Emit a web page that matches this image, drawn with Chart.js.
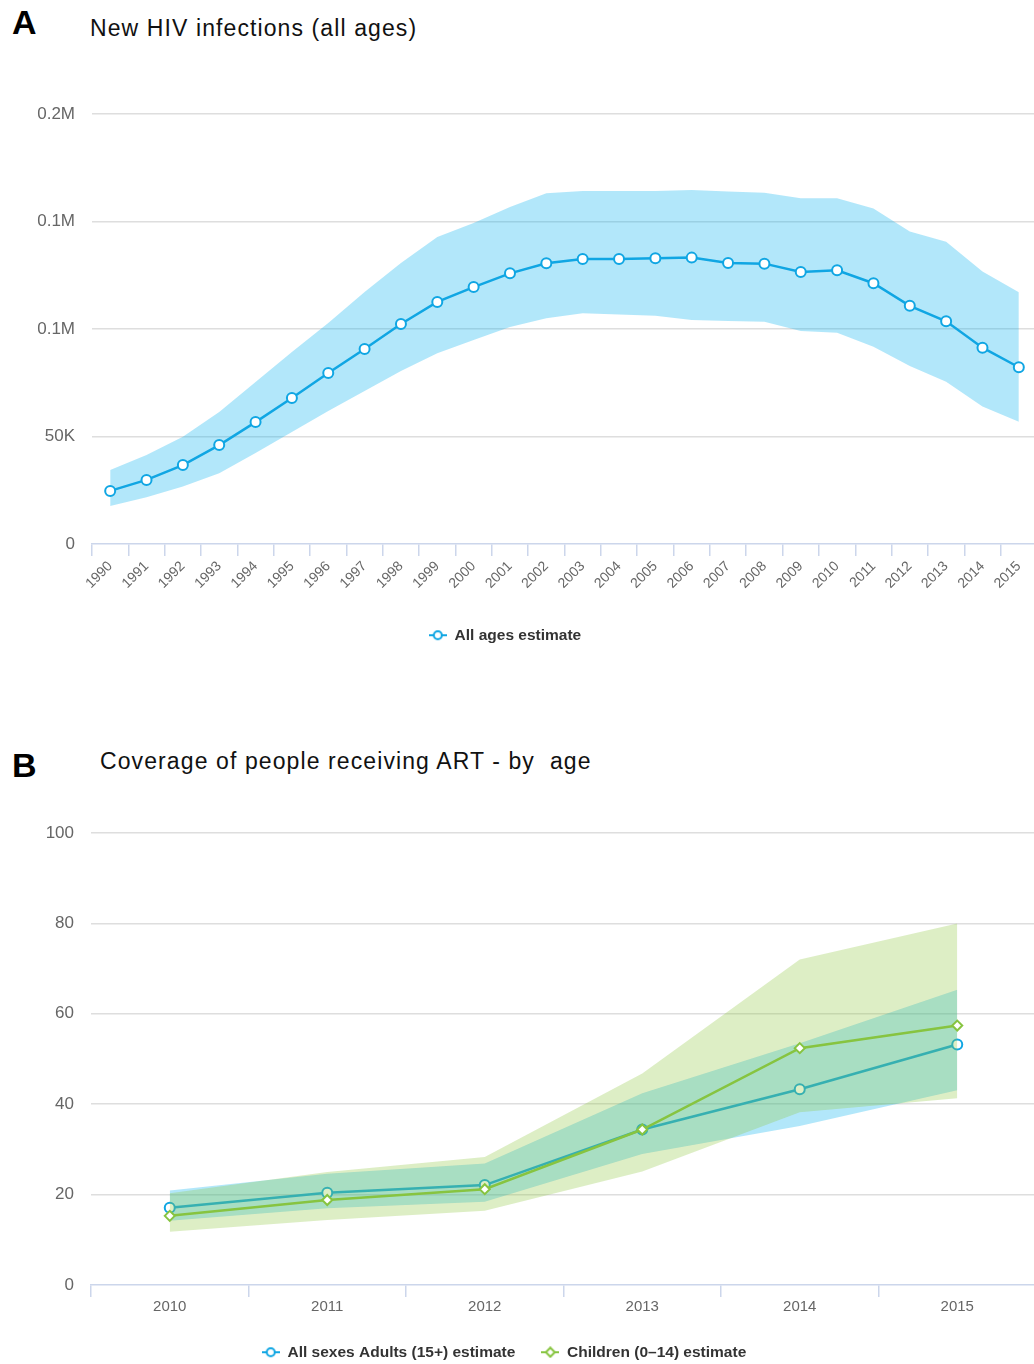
<!doctype html>
<html>
  <head>
    <meta charset="utf-8" />
    <script src="https://cdn.jsdelivr.net/npm/chart.js"></script>
    <style>
      html, body { margin: 0; padding: 0; background: #fff; overflow: hidden; }
      body { position: relative; width: 1034px; height: 1364px; font-family: "Liberation Sans", Arial, sans-serif; }
      .panel { position: absolute; left: 12px; font-size: 34px; line-height: 1; font-weight: bold; color: #000; }
      .title { position: absolute; font-size: 23px; line-height: 1; letter-spacing: 1.1px; color: #111; white-space: pre; }
      .box { position: absolute; width: 1064px; }
    </style>
  </head>
  <body>
    <div class="panel" style="top: 5px">A</div>
    <div class="title" style="left: 90px; top: 17px">New HIV infections (all ages)</div>
    <div class="box" style="left: -27px; top: 80px; height: 573px"><canvas id="chartA"></canvas></div>

    <div class="panel" style="top: 748px">B</div>
    <div class="title" style="left: 100px; top: 750px">Coverage of people receiving ART - by  age</div>
    <div class="box" style="left: -28px; top: 800px; height: 570px"><canvas id="chartB"></canvas></div>

    <script>
      // --- new infections, all ages ---
      const yearsA = ["1990", "1991", "1992", "1993", "1994", "1995", "1996", "1997", "1998",
        "1999", "2000", "2001", "2002", "2003", "2004", "2005", "2006", "2007", "2008",
        "2009", "2010", "2011", "2012", "2013", "2014", "2015"];
      const allAges = [24700, 29800, 36700, 46000, 56700, 67900, 79500, 90700, 102300,
        112600, 119500, 125900, 130600, 132600, 132600, 132900, 133200, 130700, 130400,
        126500, 127300, 121300, 110800, 103600, 91300, 82200];
      const allAgesHigh = [34400, 41400, 49900, 61400, 75300, 89300, 102800, 117200, 130700,
        142800, 149300, 156700, 163100, 164200, 164200, 164200, 164700, 163900, 163400,
        160800, 160800, 156100, 145300, 140600, 126700, 117100];
      const allAgesLow = [17700, 21700, 26700, 32900, 42300, 52100, 61900, 71200, 80500,
        88700, 94900, 100900, 105000, 107300, 106800, 106200, 104200, 103700, 103400,
        99100, 98300, 91800, 82800, 75500, 63900, 56900];
      const yTicksA = ["0", "50K", "0.1M", "0.1M", "0.2M"];

      // --- ART coverage by age (%) ---
      const yearsB = ["2010", "2011", "2012", "2013", "2014", "2015"];
      const adults = [17.1, 20.4, 22.1, 34.4, 43.3, 53.2];
      const adultsLow = [14.2, 17.0, 18.4, 29.0, 35.2, 43.1];
      const adultsHigh = [20.9, 24.6, 26.9, 42.4, 53.5, 65.3];
      const children = [15.3, 18.8, 21.2, 34.4, 52.4, 57.4];
      const childrenLow = [11.8, 14.4, 16.4, 25.1, 38.2, 41.3];
      const childrenHigh = [20.3, 25.0, 28.3, 46.8, 72.0, 80.0];
      const yTicksB = ["0", "20", "40", "60", "80", "100"];

      const blue = "#10a6e3";
      const blueBand = "rgba(0,174,239,0.3)";
      const green = "#87c440";
      const greenBand = "rgba(141,198,63,0.3)";
      const gridGray = "#dedede";
      const axisBlue = "#ccd6eb";
      const none = "rgba(0,0,0,0)";

      Chart.defaults.font.family = '"Liberation Sans", Arial, sans-serif';
      Chart.defaults.animation = false;

      // small line + marker swatch for the legend
      function swatch(color, marker) {
        const c = document.createElement("canvas");
        c.width = 18;
        c.height = 12;
        const g = c.getContext("2d");
        g.strokeStyle = color;
        g.lineWidth = 2;
        g.beginPath();
        g.moveTo(0, 6);
        g.lineTo(18, 6);
        g.stroke();
        g.fillStyle = "#fff";
        g.beginPath();
        if (marker === "circle") {
          g.arc(9, 6, 4, 0, Math.PI * 2);
        } else {
          g.moveTo(9, 1.5);
          g.lineTo(13.5, 6);
          g.lineTo(9, 10.5);
          g.lineTo(4.5, 6);
          g.closePath();
        }
        g.fill();
        g.stroke();
        return c;
      }

      function band(data, color, fillTarget, order) {
        return {
          data: data,
          borderWidth: 0,
          borderColor: none,
          backgroundColor: color,
          pointRadius: 0,
          fill: fillTarget === null ? false : { target: fillTarget },
          order: order,
        };
      }

      function legendItems(list) {
        return () =>
          list.map((it, i) => ({
            text: it.text,
            pointStyle: it.symbol,
            fillStyle: "#fff",
            strokeStyle: it.color,
            lineWidth: 0,
            fontColor: "#333",
            hidden: false,
            datasetIndex: i,
          }));
      }

      function xAxis(height, tickOpts) {
        return {
          offset: true,
          grid: { offset: true, drawOnChartArea: false, drawTicks: true, tickLength: 12, color: axisBlue, lineWidth: 1.5 },
          border: { color: axisBlue, width: 1.5 },
          ticks: Object.assign({ autoSkip: false, color: "#666" }, tickOpts),
          afterFit: (s) => {
            s.height = height;
            // labels sit inside the category slots, no extra side room needed
            s.paddingLeft = 0;
            s.paddingRight = 0;
          },
        };
      }

      function yAxis(min, max, step, labels, size) {
        return {
          min: min,
          max: max,
          border: { display: false },
          grid: {
            drawTicks: false,
            lineWidth: 1.5,
            color: (ctx) => (ctx.tick && ctx.tick.value === 0 ? none : gridGray),
          },
          ticks: {
            stepSize: step,
            padding: 17,
            color: "#666",
            font: { size: size },
            callback: (v, i) => labels[i],
          },
          afterFit: (s) => { s.width = 119; },
        };
      }

      // chart A
      new Chart(document.getElementById("chartA"), {
        type: "line",
        data: {
          labels: yearsA,
          datasets: [
            {
              label: "All ages estimate",
              data: allAges,
              borderColor: blue,
              borderWidth: 2.5,
              pointRadius: 5,
              pointBorderWidth: 2,
              pointBackgroundColor: "#fff",
              pointBorderColor: blue,
              fill: false,
              order: 0,
            },
            band(allAgesHigh, blueBand, 2, 1),
            band(allAgesLow, blueBand, null, 2),
          ],
        },
        options: {
          responsive: true,
          maintainAspectRatio: false,
          layout: { autoPadding: false, padding: { top: 34, left: 0, right: 0, bottom: 0 } },
          plugins: {
            tooltip: { enabled: false },
            legend: {
              position: "bottom",
              labels: {
                usePointStyle: true,
                pointStyleWidth: 18,
                padding: 10,
                font: { size: 15.5, weight: "bold" },
                generateLabels: legendItems([
                  { text: "All ages estimate", symbol: swatch(blue, "circle"), color: blue },
                ]),
              },
            },
          },
          scales: {
            x: xAxis(73.5, { minRotation: 45, maxRotation: 45, padding: 2, font: { size: 14 } }),
            y: yAxis(0, 200000, 50000, yTicksA, 17),
          },
        },
      });

      // chart B: adults drawn first, children band laid over it
      new Chart(document.getElementById("chartB"), {
        type: "line",
        data: {
          labels: yearsB,
          datasets: [
            {
              label: "Children (0–14) estimate",
              data: children,
              borderColor: green,
              borderWidth: 2.5,
              pointStyle: "rectRot",
              pointRadius: 5,
              pointBorderWidth: 2,
              pointBackgroundColor: "#fff",
              pointBorderColor: green,
              fill: false,
              order: 0,
            },
            band(childrenHigh, greenBand, 2, 1),
            band(childrenLow, greenBand, null, 2),
            {
              label: "All sexes Adults (15+) estimate",
              data: adults,
              borderColor: blue,
              borderWidth: 2.5,
              pointRadius: 5,
              pointBorderWidth: 2,
              pointBackgroundColor: "#fff",
              pointBorderColor: blue,
              fill: false,
              order: 3,
            },
            band(adultsHigh, blueBand, 5, 4),
            band(adultsLow, blueBand, null, 5),
          ],
        },
        options: {
          responsive: true,
          maintainAspectRatio: false,
          layout: { autoPadding: false, padding: { top: 33, left: 0, right: 0, bottom: 0 } },
          plugins: {
            tooltip: { enabled: false },
            legend: {
              position: "bottom",
              labels: {
                usePointStyle: true,
                pointStyleWidth: 18,
                padding: 26,
                font: { size: 15.5, weight: "bold" },
                generateLabels: legendItems([
                  { text: "All sexes Adults (15+) estimate", symbol: swatch(blue, "circle"), color: blue },
                  { text: "Children (0–14) estimate", symbol: swatch(green, "diamond"), color: green },
                ]),
              },
            },
          },
          scales: {
            x: xAxis(33.5, { maxRotation: 0, padding: 1, font: { size: 15 } }),
            y: yAxis(0, 100, 20, yTicksB, 17),
          },
        },
      });
    </script>
  </body>
</html>
